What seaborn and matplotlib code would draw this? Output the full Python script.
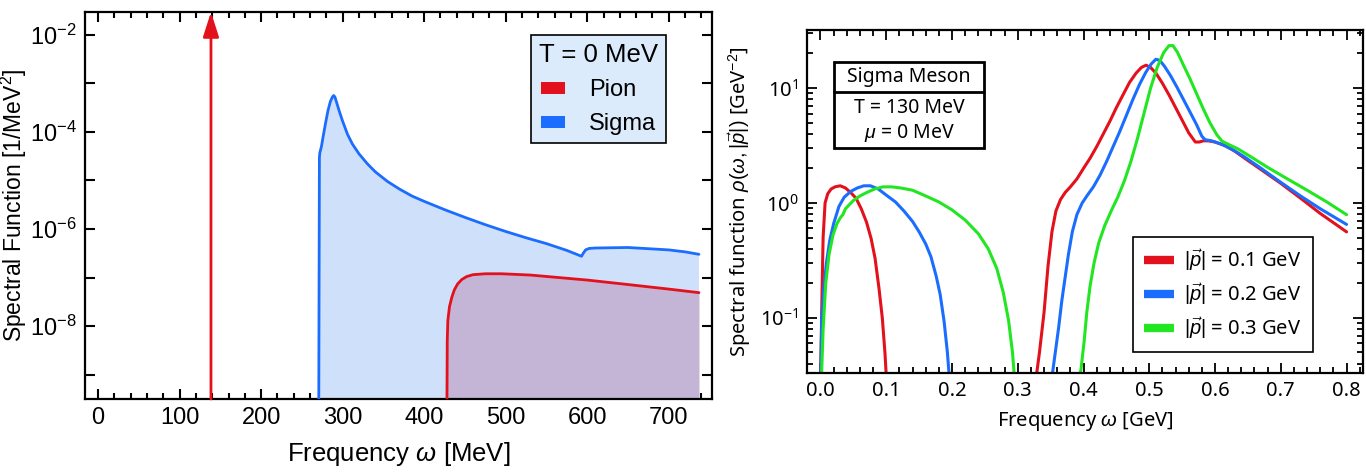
import math
import matplotlib
matplotlib.use("Agg")
import matplotlib.pyplot as plt
import seaborn as sns
from matplotlib.ticker import (FixedLocator, FuncFormatter, MultipleLocator,
                               LogLocator, NullLocator, NullFormatter)
from matplotlib.patches import Patch, Rectangle
from matplotlib.lines import Line2D

# ---------------- vacuum spectral functions (T = 0 MeV) ----------------
pion_mass = 138.5  # MeV, delta peak of the pion

sigma_w = [270.5, 271.5, 272, 274, 276, 279, 282, 285, 287.5, 289, 290.5, 292,
           296, 300, 306, 312, 320, 330, 340, 355, 370, 385, 400, 425, 450, 475,
           500, 525, 550, 575, 593, 595, 598, 602, 610, 650, 700, 720, 737]
sigma_rho = [1e-11, 3.0e-5, 3.72e-5, 5.01e-5, 7.94e-5, 1.51e-4, 2.75e-4, 4.27e-4,
             5.25e-4, 5.62e-4, 5.25e-4, 4.37e-4, 2.63e-4, 1.66e-4, 8.91e-5,
             5.62e-5, 3.55e-5, 2.24e-5, 1.51e-5, 9.55e-6, 6.61e-6, 4.79e-6,
             3.72e-6, 2.51e-6, 1.74e-6, 1.23e-6, 8.91e-7, 6.61e-7, 5.01e-7,
             3.63e-7, 2.75e-7, 3.16e-7, 3.72e-7, 3.98e-7, 4.07e-7, 4.17e-7,
             3.72e-7, 3.39e-7, 3.02e-7]

pion_w = [427.5, 428.3, 429, 431, 434, 437, 441, 446, 452, 460, 475, 495, 530,
          600, 650, 700, 737]
pion_rho = [1e-11, 5.0e-9, 1.3e-8, 2.5e-8, 4.0e-8, 5.6e-8, 7.4e-8, 9.1e-8,
            1.05e-7, 1.15e-7, 1.2e-7, 1.2e-7, 1.13e-7, 8.9e-8, 7.2e-8, 5.8e-8,
            4.9e-8]

# ---------------- sigma meson at T = 130 MeV, mu = 0 ----------------
p_labels = [r"$|\vec{p}|$ = 0.1 GeV", r"$|\vec{p}|$ = 0.2 GeV", r"$|\vec{p}|$ = 0.3 GeV"]

w1_low = [0.000, 0.002, 0.004, 0.007, 0.011, 0.016, 0.022, 0.030, 0.038, 0.046,
          0.054, 0.062, 0.070, 0.077, 0.083, 0.089, 0.094, 0.098, 0.101]
r1_low = [0.025, 0.126, 0.50, 1.0, 1.20, 1.32, 1.38, 1.41, 1.35, 1.23, 1.10,
          0.89, 0.68, 0.49, 0.33, 0.18, 0.10, 0.05, 0.025]
w1_high = [0.326, 0.333, 0.340, 0.346, 0.352, 0.358, 0.365, 0.372, 0.380, 0.390,
           0.400, 0.410, 0.420, 0.430, 0.440, 0.450, 0.460, 0.470, 0.480, 0.488,
           0.495, 0.502, 0.510, 0.520, 0.530, 0.540, 0.550, 0.560, 0.570, 0.576,
           0.582, 0.590, 0.600, 0.615, 0.630, 0.650, 0.670, 0.700, 0.730, 0.760,
           0.800]
r1_high = [0.025, 0.050, 0.112, 0.282, 0.562, 0.851, 1.07, 1.23, 1.38, 1.62, 2.0,
           2.45, 3.09, 3.98, 5.13, 6.76, 8.71, 11.2, 13.5, 15.1, 15.8, 15.1, 13.5,
           11.0, 8.71, 6.76, 5.25, 4.07, 3.39, 3.39, 3.47, 3.47, 3.39, 3.16, 2.82,
           2.34, 1.95, 1.48, 1.10, 0.81, 0.56]

w2_low = [0.000, 0.002, 0.005, 0.009, 0.014, 0.020, 0.028, 0.036, 0.046, 0.056,
          0.066, 0.076, 0.088, 0.100, 0.114, 0.127, 0.140, 0.150, 0.160, 0.168,
          0.176, 0.182, 0.188, 0.193, 0.197]
r2_low = [0.025, 0.10, 0.178, 0.30, 0.47, 0.66, 0.93, 1.12, 1.26, 1.35, 1.41,
          1.41, 1.32, 1.17, 1.02, 0.85, 0.69, 0.56, 0.44, 0.34, 0.23, 0.16, 0.093,
          0.050, 0.025]
w2_high = [0.350, 0.356, 0.362, 0.367, 0.372, 0.377, 0.383, 0.390, 0.398, 0.406,
           0.415, 0.425, 0.435, 0.445, 0.455, 0.465, 0.475, 0.485, 0.495, 0.503,
           0.510, 0.516, 0.523, 0.532, 0.542, 0.552, 0.562, 0.572, 0.580, 0.585,
           0.595, 0.610, 0.625, 0.645, 0.670, 0.700, 0.730, 0.760, 0.800]
r2_high = [0.025, 0.045, 0.081, 0.141, 0.224, 0.355, 0.562, 0.794, 1.0, 1.17, 1.38,
           1.74, 2.29, 3.09, 4.17, 5.75, 7.94, 10.7, 13.8, 16.2, 17.8, 17.4, 15.5,
           12.9, 10.2, 7.94, 6.17, 4.79, 3.80, 3.55, 3.47, 3.24, 2.95, 2.51, 2.0,
           1.51, 1.15, 0.89, 0.65]

w3_low = [0.001, 0.004, 0.008, 0.013, 0.019, 0.025, 0.030, 0.034, 0.038, 0.043,
          0.050, 0.060, 0.070, 0.082, 0.095, 0.108, 0.122, 0.140, 0.160, 0.180,
          0.200, 0.220, 0.240, 0.255, 0.268, 0.278, 0.286, 0.292, 0.296]
r3_low = [0.025, 0.079, 0.20, 0.355, 0.525, 0.66, 0.74, 0.79, 0.89, 0.955, 1.05,
          1.15, 1.23, 1.32, 1.38, 1.38, 1.35, 1.29, 1.15, 1.02, 0.87, 0.71, 0.54,
          0.40, 0.27, 0.166, 0.095, 0.050, 0.025]
w3_high = [0.388, 0.396, 0.401, 0.405, 0.410, 0.416, 0.423, 0.432, 0.442, 0.452,
           0.462, 0.472, 0.482, 0.492, 0.502, 0.512, 0.522, 0.530, 0.536, 0.543,
           0.552, 0.562, 0.572, 0.582, 0.592, 0.602, 0.610, 0.620, 0.635, 0.655,
           0.680, 0.710, 0.740, 0.770, 0.800]
r3_high = [0.025, 0.035, 0.063, 0.112, 0.19, 0.30, 0.447, 0.63, 0.85, 1.12, 1.55,
           2.29, 3.63, 6.03, 10.0, 15.1, 20.4, 23.4, 23.4, 20.4, 15.8, 12.0, 8.91,
           6.61, 5.01, 3.98, 3.47, 3.24, 2.95, 2.51, 2.04, 1.62, 1.29, 1.02, 0.79]

RED = "#e3111b"
BLUE = "#1a6dff"
GREEN = "#22e622"

sns.set_theme(style="ticks")
plt.rcParams.update({
    "font.family": ["Liberation Sans", "DejaVu Sans"],
    "mathtext.fontset": "custom",
    "mathtext.rm": "Liberation Sans",
    "mathtext.it": "Liberation Sans:italic",
    "mathtext.bf": "Liberation Sans:bold",
    "axes.edgecolor": "black",
    "axes.linewidth": 1.5,
    "xtick.color": "black",
    "ytick.color": "black",
    "text.color": "black",
    "axes.labelcolor": "black",
})

fig = plt.figure(figsize=(13.66, 4.72), dpi=100)
ax1 = fig.add_axes([85 / 1366, 73 / 472, 627 / 1366, 387 / 472])
ax2 = fig.add_axes([807 / 1366, 99 / 472, 556 / 1366, 343 / 472])

# ================= left panel =================
ax1.set_yscale("log")
ymin1, ymax1 = 10 ** -9.5, 10 ** -1.53
ax1.fill_between(sigma_w, sigma_rho, 1e-14, color="#cfe0fb", lw=0, zorder=1)
ax1.fill_between(pion_w, pion_rho, 1e-14, color="#c4b4d5", lw=0, zorder=2)
sns.lineplot(x=sigma_w, y=sigma_rho, ax=ax1, color=BLUE, lw=2.0,
             estimator=None, sort=False, zorder=3)
sns.lineplot(x=pion_w, y=pion_rho, ax=ax1, color=RED, lw=2.0,
             estimator=None, sort=False, zorder=4)
ax1.annotate("", xy=(pion_mass, ymax1), xytext=(pion_mass, ymin1),
             xycoords="data", textcoords="data",
             arrowprops=dict(arrowstyle="-|>,head_length=1.0,head_width=0.32",
                             mutation_scale=15, color=RED, lw=2.0,
                             shrinkA=0, shrinkB=0),
             zorder=5, annotation_clip=False)
ax1.set_xlim(-16, 753)
ax1.set_ylim(ymin1, ymax1)
ax1.xaxis.set_major_locator(MultipleLocator(100))
ax1.xaxis.set_minor_locator(MultipleLocator(20))
ax1.yaxis.set_major_locator(FixedLocator([10.0 ** k for k in range(-9, -1)]))
ax1.yaxis.set_minor_locator(NullLocator())


def even_decades(v, _):
    k = round(math.log10(v))
    return r"$10^{%d}$" % k if k % 2 == 0 else ""


ax1.yaxis.set_major_formatter(FuncFormatter(even_decades))
ax1.tick_params(which="both", direction="in", top=True, right=True,
                labelsize=17, width=1.5, pad=6)
ax1.tick_params(which="major", length=7)
ax1.tick_params(which="minor", length=4)
ax1.set_xlabel(r"Frequency $\omega$ [MeV]", fontsize=18.5, labelpad=8)
ax1.set_ylabel(r"Spectral Function [1/MeV$^2$]", fontsize=16.5)
ax1.yaxis.set_label_coords(-0.089, 0.5)
for s in ax1.spines.values():
    s.set_linewidth(1.6)

leg1 = ax1.legend(handles=[Patch(facecolor=RED, edgecolor="none"),
                           Patch(facecolor=BLUE, edgecolor="none")],
                  labels=["Pion", "Sigma"], title="T = 0 MeV",
                  loc="upper right", bbox_to_anchor=(0.927, 0.94),
                  fontsize=17, title_fontsize=18.5, frameon=True, fancybox=False,
                  facecolor="#dcebfb", edgecolor="black", framealpha=1,
                  handlelength=1.05, handleheight=0.4, handletextpad=1.0,
                  borderpad=0.35, labelspacing=0.5, borderaxespad=0)
leg1.get_frame().set_linewidth(1.2)
leg1.set_zorder(10)

# ================= right panel =================
rfont = ["Noto Sans", "DejaVu Sans"]
ax2.set_yscale("log")
series = [(w1_low, r1_low, w1_high, r1_high, RED),
          (w2_low, r2_low, w2_high, r2_high, BLUE),
          (w3_low, r3_low, w3_high, r3_high, GREEN)]
for wl, rl, wh, rh, c in series:
    sns.lineplot(x=wl, y=rl, ax=ax2, color=c, lw=2.2, estimator=None, sort=False)
    sns.lineplot(x=wh, y=rh, ax=ax2, color=c, lw=2.2, estimator=None, sort=False)
ax2.set_xlim(-0.0205, 0.825)
ax2.set_ylim(10 ** -1.48, 10 ** 1.505)
ax2.xaxis.set_major_locator(MultipleLocator(0.1))
ax2.xaxis.set_minor_locator(MultipleLocator(0.02))
ax2.xaxis.set_major_formatter(FuncFormatter(lambda v, _: "%.1f" % v))
ax2.yaxis.set_major_locator(LogLocator(base=10, numticks=10))
ax2.yaxis.set_minor_locator(LogLocator(base=10, subs=range(2, 10), numticks=20))
ax2.yaxis.set_minor_formatter(NullFormatter())
ax2.tick_params(which="both", direction="in", top=True, right=True,
                labelsize=14.5, width=1.3, pad=6)
ax2.tick_params(which="major", length=7)
ax2.tick_params(which="minor", length=4)
for lab in ax2.get_xticklabels() + ax2.get_yticklabels():
    lab.set_family(rfont)
ax2.set_xlabel(r"Frequency $\omega$ [GeV]", fontsize=14.5, family=rfont, labelpad=6)
ax2.set_ylabel(r"Spectral function $\rho(\omega,|\vec{p}|)$ [GeV$^{-2}$]",
               fontsize=14.5, family=rfont, labelpad=5)
for s in ax2.spines.values():
    s.set_linewidth(1.6)

leg2 = ax2.legend(handles=[Line2D([], [], color=c, lw=6, solid_capstyle="butt")
                           for c in (RED, BLUE, GREEN)],
                  labels=p_labels, loc="upper right", bbox_to_anchor=(0.91, 0.397),
                  prop={"family": rfont, "size": 14.5}, frameon=True, fancybox=False,
                  edgecolor="black", facecolor="white", framealpha=1,
                  handlelength=1.5, handletextpad=0.5, borderpad=0.55,
                  labelspacing=0.4, borderaxespad=0)
leg2.get_frame().set_linewidth(1.2)

# info box: particle and medium parameters
bx0, bx1, by0, by1, bdiv = 0.0486, 0.318, 0.656, 0.907, 0.819
ax2.add_patch(Rectangle((bx0, by0), bx1 - bx0, by1 - by0, transform=ax2.transAxes,
                        fill=True, facecolor="white", edgecolor="black", lw=2.0,
                        zorder=6))
ax2.plot([bx0, bx1], [bdiv, bdiv], transform=ax2.transAxes, color="black",
         lw=2.0, zorder=7)
cx = (bx0 + bx1) / 2
ax2.text(cx, (by1 + bdiv) / 2, "Sigma Meson", transform=ax2.transAxes,
         ha="center", va="center", fontsize=14, family=rfont, zorder=8)
ax2.text(cx, 0.773, "T = 130 MeV", transform=ax2.transAxes,
         ha="center", va="center", fontsize=14, family=rfont, zorder=8)
ax2.text(cx, 0.700, r"$\mu$ = 0 MeV", transform=ax2.transAxes,
         ha="center", va="center", fontsize=14, family=rfont, zorder=8)

fig.savefig("out.png", dpi=100)
